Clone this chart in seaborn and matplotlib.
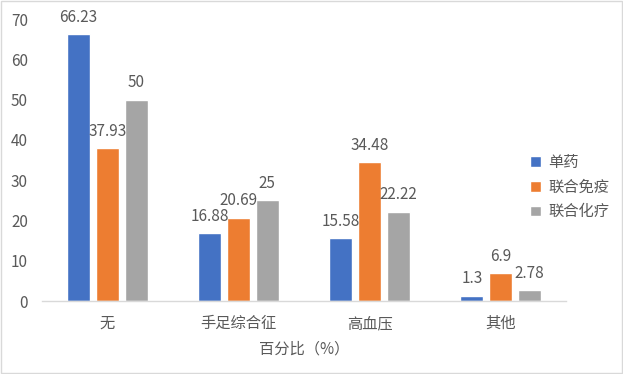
import matplotlib
matplotlib.use("Agg")
import matplotlib.pyplot as plt
import pandas as pd
import seaborn as sns

# data
categories = ["无", "手足综合征", "高血压", "其他"]
series = ["单药", "联合免疫", "联合化疗"]
single = [66.23, 16.88, 15.58, 1.3]
immuno = [37.93, 20.69, 34.48, 6.9]
chemo = [50, 25, 22.22, 2.78]
labels_single = ["66.23", "16.88", "15.58", "1.3"]
labels_immuno = ["37.93", "20.69", "34.48", "6.9"]
labels_chemo = ["50", "25", "22.22", "2.78"]

df = pd.DataFrame({
    "cat": categories * 3,
    "group": [series[0]] * 4 + [series[1]] * 4 + [series[2]] * 4,
    "value": single + immuno + chemo,
})

sns.set_theme(style="white")
plt.rcParams["font.family"] = ["Noto Sans CJK SC", "DejaVu Sans"]
text_col = "#595959"

fig = plt.figure(figsize=(6.23, 3.74), dpi=100)
ax = fig.add_axes([0.067, 0.195, 0.842, 0.754])

sns.barplot(
    data=df, x="cat", y="value", hue="group",
    palette=["#4472C4", "#ED7D31", "#A5A5A5"],
    width=0.66, gap=0.2, saturation=1, ax=ax,
)

for cont, labs in zip(ax.containers, [labels_single, labels_immuno, labels_chemo]):
    ax.bar_label(cont, labels=labs, padding=6, fontsize=11, color=text_col)

ax.set_ylim(0, 70)
ax.set_yticks(range(0, 71, 10))
ax.set_xlim(-0.5, 3.5)
ax.set_xlabel("百分比（%）", fontsize=11, color=text_col, labelpad=6)
ax.set_ylabel("")
ax.tick_params(axis="both", colors=text_col, labelsize=11, length=0)
ax.tick_params(axis="y", pad=10)
ax.tick_params(axis="x", pad=10)
for side in ["top", "right", "left"]:
    ax.spines[side].set_visible(False)
ax.spines["bottom"].set_color("#D9D9D9")
ax.spines["bottom"].set_linewidth(1)

leg = ax.legend(
    loc="center left", bbox_to_anchor=(0.905, 0.404), frameon=False,
    fontsize=11, handlelength=0.7, handleheight=0.7, handletextpad=0.5,
    labelspacing=0.5,
)
for t in leg.get_texts():
    t.set_color(text_col)

fig.patches.append(plt.Rectangle((0.002, 0.003), 0.996, 0.994, transform=fig.transFigure,
                                 fill=False, edgecolor="#D9D9D9", linewidth=1))

fig.savefig("out.png", dpi=100)
